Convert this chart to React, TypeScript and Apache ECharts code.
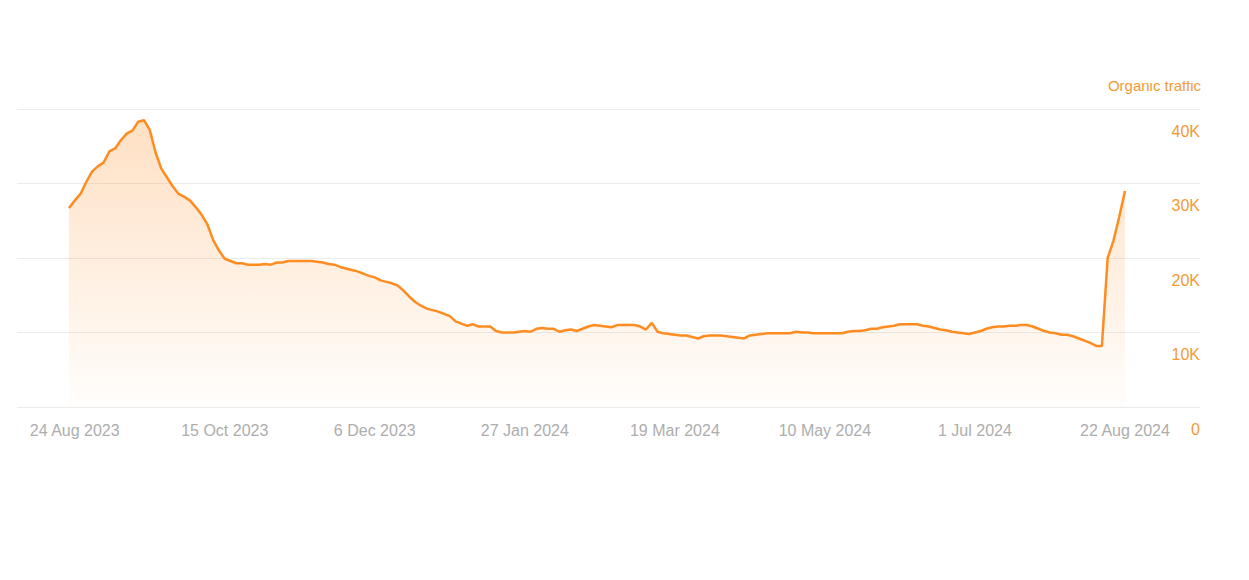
import React, { useEffect, useRef } from "react";
import * as echarts from "echarts";

// Organic traffic, one reading every 2 days, starting 22 Aug 2023
const firstDayOffset = -2; // days relative to 24 Aug 2023
const dayStep = 2;
const traffic: number[] = [
  26700, 27700, 28600, 30200, 31600, 32300, 32800, 34300, 34700, 35800,
  36700, 37100, 38300, 38500, 37200, 34200, 32000, 30800, 29600, 28600,
  28200, 27700, 26800, 25800, 24500, 22400, 21000, 19900, 19600, 19300,
  19300, 19100, 19100, 19100, 19200, 19100, 19400, 19400, 19600, 19600,
  19600, 19600, 19600, 19500, 19400, 19200, 19100, 18800, 18600, 18400,
  18200, 17900, 17600, 17400, 17000, 16800, 16600, 16300, 15600, 14800,
  14100, 13600, 13200, 13000, 12800, 12500, 12200, 11500, 11200, 10900,
  11100, 10800, 10800, 10800, 10200, 10000, 10000, 10000, 10100, 10200,
  10100, 10500, 10600, 10500, 10500, 10100, 10300, 10400, 10200, 10500,
  10800, 11000, 10900, 10800, 10700, 11000, 11000, 11000, 11000, 10800,
  10400, 11300, 10100, 9900, 9800, 9700, 9600, 9600, 9400, 9200,
  9500, 9600, 9600, 9600, 9500, 9400, 9300, 9200, 9600, 9700,
  9800, 9900, 9900, 9900, 9900, 9900, 10100, 10000, 10000, 9900,
  9900, 9900, 9900, 9900, 9900, 10100, 10200, 10200, 10300, 10500,
  10500, 10700, 10800, 10900, 11100, 11100, 11100, 11100, 10900, 10800,
  10600, 10400, 10300, 10100, 10000, 9900, 9800, 10000, 10200, 10500,
  10700, 10800, 10800, 10900, 10900, 11000, 11000, 10800, 10500, 10200,
  10000, 9900, 9700, 9700, 9500, 9200, 8900, 8600, 8200, 8200,
  20000, 22300, 25500, 29000,
];

const xTickDays: number[] = [0, 52, 104, 156, 208, 260, 312, 364];
const xTickLabels: string[] = [
  "24 Aug 2023",
  "15 Oct 2023",
  "6 Dec 2023",
  "27 Jan 2024",
  "19 Mar 2024",
  "10 May 2024",
  "1 Jul 2024",
  "22 Aug 2024",
];
const yTickLabels: string[] = ["0", "10K", "20K", "30K", "40K"];
const seriesName = "Organic traffic";

const LINE = "#ff8c21";
const LABEL_ORANGE = "#f39a35";
const FONT = "'Liberation Sans', Arial, Helvetica, sans-serif";

export default function App() {
  const ref = useRef<HTMLDivElement>(null);

  useEffect(() => {
    if (!ref.current) return;
    const chart = echarts.init(ref.current, undefined, { renderer: "svg" });
    const data = traffic.map((v, i) => [firstDayOffset + i * dayStep, v]);

    chart.setOption({
      animation: false,
      backgroundColor: "#ffffff",
      textStyle: { fontFamily: FONT },
      grid: { left: 17, right: 49, top: 109, bottom: 173, containLabel: false },
      xAxis: {
        type: "value",
        min: -20,
        max: 390,
        splitLine: { show: false },
        axisLine: { show: false },
        axisTick: { show: false },
        axisLabel: {
          customValues: xTickDays,
          formatter: (v: number) => {
            const idx = xTickDays.indexOf(Math.round(v));
            return idx >= 0 ? xTickLabels[idx] : "";
          },
          color: "#adadad",
          fontSize: 16,
          fontFamily: FONT,
          margin: 15,
        },
      },
      yAxis: {
        type: "value",
        position: "right",
        min: 0,
        max: 40000,
        interval: 10000,
        axisLine: { show: false },
        axisTick: { show: false },
        splitLine: { show: true, lineStyle: { color: "#ebebeb", width: 1 } },
        axisLabel: {
          inside: true,
          margin: 0,
          color: LABEL_ORANGE,
          fontSize: 16,
          fontFamily: FONT,
          verticalAlign: "top",
          lineHeight: 44,
          formatter: (v: number) => yTickLabels[Math.round(v / 10000)] ?? "",
        },
      },
      graphic: [
        {
          type: "text",
          right: 48,
          top: 78,
          z: 10,
          style: {
            text: seriesName,
            fill: LABEL_ORANGE,
            font: `15px ${FONT}`,
          },
        },
        {
          type: "rect",
          shape: { x: 1050, y: 0, width: 199, height: 81 },
          z: 11,
          style: { fill: "#ffffff" },
        },
      ],
      series: [
        {
          name: seriesName,
          type: "line",
          data,
          symbol: "none",
          smooth: false,
          lineStyle: { color: LINE, width: 2.5 },
          itemStyle: { color: LINE },
          areaStyle: {
            color: new echarts.graphic.LinearGradient(0, 0, 0, 1, [
              { offset: 0, color: "rgba(255,140,33,0.38)" },
              { offset: 1, color: "rgba(255,140,33,0.02)" },
            ]),
          },
        },
      ],
    });

    return () => chart.dispose();
  }, []);

  return (
    <div
      ref={ref}
      style={{ position: "fixed", left: 0, top: 0, width: "1249px", height: "580px" }}
    />
  );
}
